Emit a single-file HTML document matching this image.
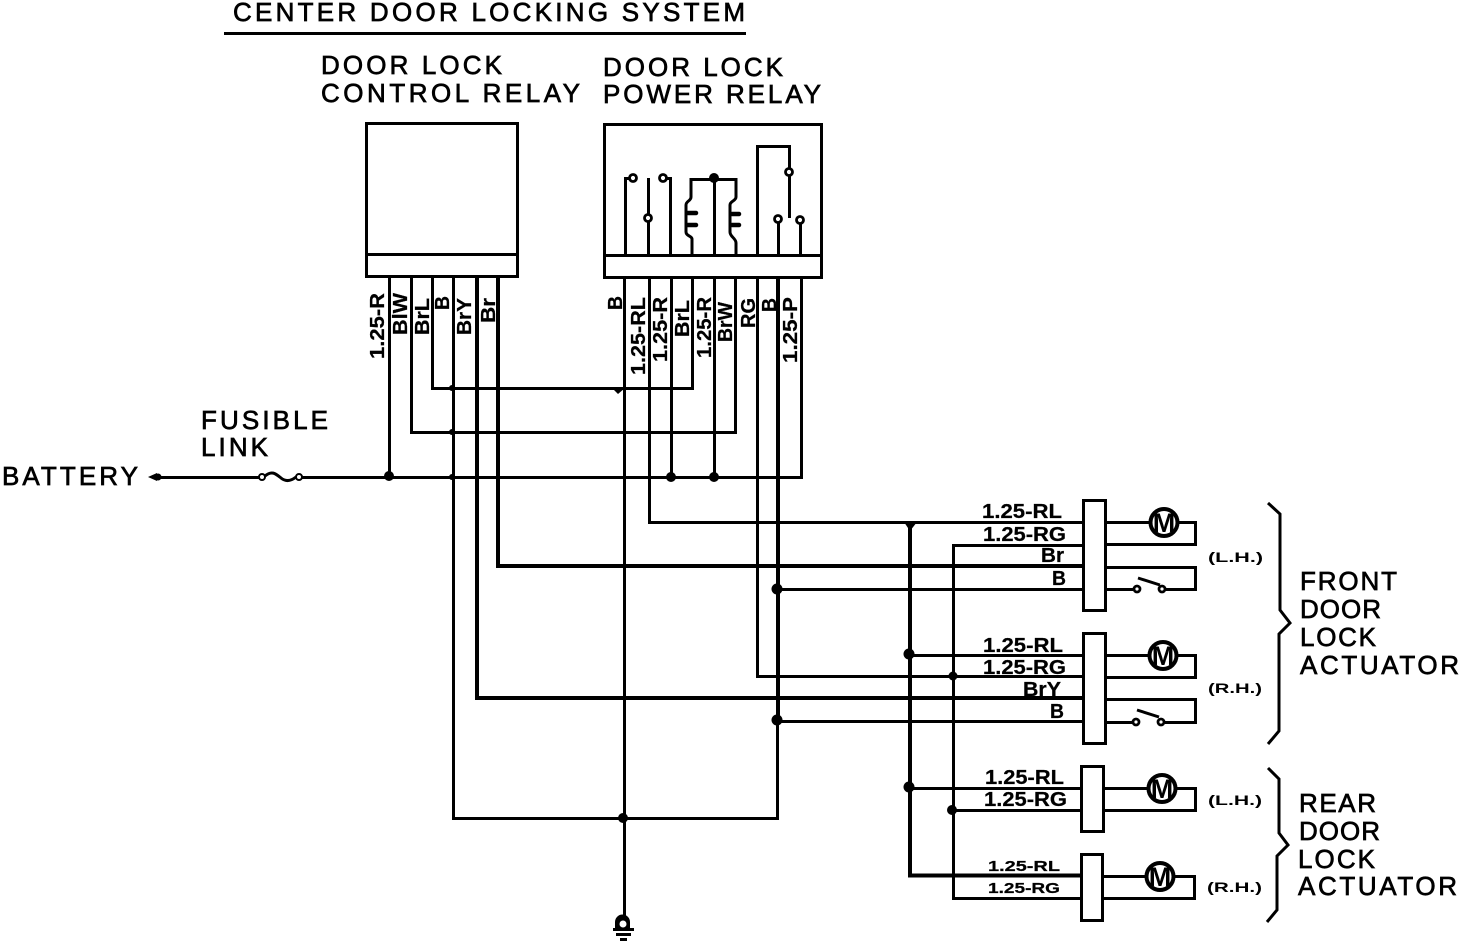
<!DOCTYPE html>
<html>
<head>
<meta charset="utf-8">
<style>
html,body{margin:0;padding:0;background:#fff}
svg{display:block}
text{font-family:"Liberation Sans",sans-serif;fill:#000}
.h{font-size:26px;stroke:#000;stroke-width:.7px}
.w{font-size:20px;font-weight:bold;stroke:#000;stroke-width:.25px}
.s{font-size:14px;font-weight:bold}
.l{fill:none;stroke:#000;stroke-width:3;shape-rendering:crispEdges}
.t{fill:none;stroke:#000;stroke-width:4;shape-rendering:crispEdges}
.c{fill:none;stroke:#000;stroke-width:3}
.o{fill:#fff;stroke:#000;stroke-width:2.8}
</style>
</head>
<body>
<svg width="1472" height="942" viewBox="0 0 1472 942" xmlns="http://www.w3.org/2000/svg">
<rect width="1472" height="942" fill="#fff"/>

<!-- headings -->
<text class="h" x="233" y="21" textLength="512" lengthAdjust="spacing">CENTER DOOR LOCKING SYSTEM</text>
<path d="M224 33.500H746" class="l"/>
<text class="h" x="321" y="74" textLength="181" lengthAdjust="spacing">DOOR LOCK</text>
<text class="h" x="321" y="102" textLength="259" lengthAdjust="spacing">CONTROL RELAY</text>
<text class="h" x="603" y="76" textLength="180" lengthAdjust="spacing">DOOR LOCK</text>
<text class="h" x="603" y="103" textLength="218" lengthAdjust="spacing">POWER RELAY</text>
<text class="h" x="201" y="429" textLength="127" lengthAdjust="spacing">FUSIBLE</text>
<text class="h" x="201" y="456" textLength="67" lengthAdjust="spacing">LINK</text>
<text class="h" x="2" y="485" textLength="136" lengthAdjust="spacing">BATTERY</text>

<!-- relays -->
<rect x="366.500" y="123.500" width="151" height="153" class="l"/>
<path d="M366 254.500H518" class="l"/>
<rect x="604.500" y="124.500" width="217" height="153" class="l"/>
<path d="M604 255.500H822" class="l"/>

<!-- power relay internals -->
<path d="M625.500 255V178.500H630M648.500 255V178M670.500 255V178.500H666M714.500 255V178" class="l"/>
<path d="M692 255V239C692 236 686 236 686 232V205C686 201 691 201 691 197V179.500H736V197C736 201 730 201 730 205V232C730 237 736 238 736 243V255" class="c"/>
<path d="M688 213H696M688 225H696M732 214H739M732 225H739" fill="none" stroke="#000" stroke-width="4.500" stroke-linecap="round"/>
<path d="M757.500 255V146.500H789.500V218M778.500 255V220M800.500 255V221" class="l"/>
<circle cx="633" cy="178" r="3.500" class="o"/>
<circle cx="663" cy="178" r="3.500" class="o"/>
<circle cx="648" cy="218" r="3.500" class="o"/>
<circle cx="789" cy="172" r="3.500" class="o"/>
<circle cx="778" cy="219" r="3.500" class="o"/>
<circle cx="800" cy="220" r="3.500" class="o"/>
<circle cx="714" cy="178" r="5" fill="#000"/>

<!-- left relay wiring -->
<path d="M389.500 276V477" class="l"/>
<path d="M411.500 276V432.500H735.500V278" class="l"/>
<path d="M432.500 276V388.500H692.500V278" class="l"/>
<path d="M453.500 276V818.500H777.500V720" class="l"/>
<path d="M477 276V698H1083" class="t"/>
<path d="M498 276V566H1083" class="t"/>

<!-- right relay wiring -->
<path d="M624.500 278V918" class="l"/>
<path d="M649.500 278V522.500H1083" class="l"/>
<path d="M671.500 278V477M714.500 278V477M757.500 278V676.500H1083" class="l"/>
<path d="M778 278V720" class="t"/>

<!-- battery line -->
<path d="M155 477.500H259M302 477.500H801.500V278" class="l"/>
<path d="M148 477L157 473V481Z" fill="#000"/>
<circle cx="158" cy="477" r="3.500" fill="#000"/>
<circle cx="262" cy="477" r="3" class="o" style="stroke-width:2"/>
<circle cx="299" cy="477" r="3" class="o" style="stroke-width:2"/>
<path d="M265 476C272 470 276 474 281 478C286 482 291 481 296 477" class="c"/>

<!-- bus verticals -->
<path d="M910 522V875.500H1081" class="t"/>
<path d="M1083 545.500H953.500V898.500H1081" class="l"/>
<path d="M777 589.500H1083M777 721.500H1083M909 655.500H1083M909 788.500H1081M952 810.500H1081" class="l"/>

<!-- junctions -->
<g fill="#000">
<circle cx="389" cy="476" r="5"/>
<circle cx="671" cy="477" r="5"/>
<circle cx="714" cy="477" r="5"/>
<circle cx="452" cy="477" r="3"/>
<circle cx="452" cy="432" r="3"/>
<circle cx="452" cy="388" r="3"/>
<circle cx="623" cy="818" r="5"/>
<circle cx="777" cy="589" r="5.500"/>
<circle cx="777" cy="720" r="5.500"/>
<circle cx="909" cy="654" r="5.500"/>
<circle cx="909" cy="787" r="5.500"/>
<circle cx="953" cy="676" r="4.500"/>
<circle cx="952" cy="810" r="5"/>
<path d="M904 522H917L910 531Z"/>
<path d="M612 388H625L618 394Z"/>
</g>

<!-- ground -->
<path d="M615 929V922A7.500 7.500 0 0 1 630 922V929Z" fill="#000"/>
<circle cx="623" cy="924" r="3.500" fill="#fff"/>
<path d="M613 929.500H634" class="l"/>
<path d="M616 934.500H631M620 939.500H627" class="l"/>

<!-- actuators -->
<rect x="1083.500" y="500.500" width="22" height="110" class="l" style="fill:#fff"/>
<rect x="1083.500" y="633.500" width="22" height="110" class="l" style="fill:#fff"/>
<rect x="1081.500" y="766.500" width="22" height="65" class="l" style="fill:#fff"/>
<rect x="1081.500" y="854.500" width="21" height="66" class="l" style="fill:#fff"/>

<!-- motor loops -->
<path d="M1105 522.500H1195.500V544.500H1105" class="l"/>
<path d="M1105 567.500H1195.500V589.500H1165M1133 589.500H1105" class="l"/>
<path d="M1105 655.500H1195.500V677.500H1105" class="l"/>
<path d="M1105 699.500H1195.500V722.500H1165M1133 722.500H1105" class="l"/>
<path d="M1104 788.500H1195.500V810.500H1104" class="l"/>
<path d="M1103 876.500H1194.500V898.500H1103" class="l"/>

<!-- switches -->
<path d="M1138 578L1160 585M1137 710L1159 717" class="c"/>
<circle cx="1137" cy="589" r="3" class="o"/>
<circle cx="1162" cy="589" r="3" class="o"/>
<circle cx="1136" cy="722" r="3" class="o"/>
<circle cx="1161" cy="722" r="3" class="o"/>

<!-- motors -->
<g>
<circle cx="1164" cy="522.500" r="13.500" fill="#fff" stroke="#000" stroke-width="4"/>
<circle cx="1163" cy="655.500" r="13.500" fill="#fff" stroke="#000" stroke-width="4"/>
<circle cx="1162" cy="788.500" r="13.500" fill="#fff" stroke="#000" stroke-width="4"/>
<circle cx="1160" cy="876.500" r="13.500" fill="#fff" stroke="#000" stroke-width="4"/>
</g>
<g font-size="27" font-weight="bold" text-anchor="middle">
<text x="1164" y="532">M</text>
<text x="1163" y="665">M</text>
<text x="1162" y="798">M</text>
<text x="1160" y="886">M</text>
</g>

<!-- wire labels -->
<text class="w" x="982" y="518" textLength="80" lengthAdjust="spacingAndGlyphs">1.25-RL</text>
<text class="w" x="983" y="541" textLength="83" lengthAdjust="spacingAndGlyphs">1.25-RG</text>
<text class="w" x="1041" y="562" textLength="23" lengthAdjust="spacingAndGlyphs">Br</text>
<text class="w" x="1052" y="585" textLength="14" lengthAdjust="spacingAndGlyphs">B</text>
<text class="w" x="983" y="652" textLength="80" lengthAdjust="spacingAndGlyphs">1.25-RL</text>
<text class="w" x="983" y="674" textLength="83" lengthAdjust="spacingAndGlyphs">1.25-RG</text>
<text class="w" x="1023" y="696" textLength="38" lengthAdjust="spacingAndGlyphs">BrY</text>
<text class="w" x="1050" y="718" textLength="14" lengthAdjust="spacingAndGlyphs">B</text>
<text class="w" x="985" y="784" textLength="79" lengthAdjust="spacingAndGlyphs">1.25-RL</text>
<text class="w" x="984" y="806" textLength="83" lengthAdjust="spacingAndGlyphs">1.25-RG</text>
<text class="w" style="font-size:15px" x="988" y="871" textLength="72" lengthAdjust="spacingAndGlyphs">1.25-RL</text>
<text class="w" style="font-size:15px" x="988" y="893" textLength="72" lengthAdjust="spacingAndGlyphs">1.25-RG</text>

<!-- vertical labels left relay -->
<text class="w" transform="translate(384,359) rotate(-90)" textLength="66" lengthAdjust="spacingAndGlyphs">1.25-R</text>
<text class="w" transform="translate(407,335) rotate(-90)" textLength="42" lengthAdjust="spacingAndGlyphs">BlW</text>
<text class="w" transform="translate(429,335) rotate(-90)" textLength="37" lengthAdjust="spacingAndGlyphs">BrL</text>
<text class="w" transform="translate(449,310) rotate(-90)" textLength="14" lengthAdjust="spacingAndGlyphs">B</text>
<text class="w" transform="translate(471,335) rotate(-90)" textLength="37" lengthAdjust="spacingAndGlyphs">BrY</text>
<text class="w" transform="translate(495,323) rotate(-90)" textLength="25" lengthAdjust="spacingAndGlyphs">Br</text>

<!-- vertical labels right relay -->
<text class="w" transform="translate(622,310) rotate(-90)" textLength="14" lengthAdjust="spacingAndGlyphs">B</text>
<text class="w" transform="translate(645,375) rotate(-90)" textLength="78" lengthAdjust="spacingAndGlyphs">1.25-RL</text>
<text class="w" transform="translate(667,362) rotate(-90)" textLength="65" lengthAdjust="spacingAndGlyphs">1.25-R</text>
<text class="w" transform="translate(689,337) rotate(-90)" textLength="37" lengthAdjust="spacingAndGlyphs">BrL</text>
<text class="w" transform="translate(711,358) rotate(-90)" textLength="61" lengthAdjust="spacingAndGlyphs">1.25-R</text>
<text class="w" transform="translate(732,342) rotate(-90)" textLength="40" lengthAdjust="spacingAndGlyphs">BrW</text>
<text class="w" transform="translate(755,328) rotate(-90)" textLength="30" lengthAdjust="spacingAndGlyphs">RG</text>
<text class="w" transform="translate(776,312) rotate(-90)" textLength="14" lengthAdjust="spacingAndGlyphs">B</text>
<text class="w" transform="translate(797,363) rotate(-90)" textLength="66" lengthAdjust="spacingAndGlyphs">1.25-P</text>

<!-- side labels -->
<text class="s" x="1208" y="562" textLength="55" lengthAdjust="spacingAndGlyphs">(L.H.)</text>
<text class="s" x="1208" y="693" textLength="54" lengthAdjust="spacingAndGlyphs">(R.H.)</text>
<text class="s" x="1208" y="805" textLength="54" lengthAdjust="spacingAndGlyphs">(L.H.)</text>
<text class="s" x="1207" y="892" textLength="55" lengthAdjust="spacingAndGlyphs">(R.H.)</text>

<!-- braces -->
<path d="M1268 503L1280 514V610L1290 623L1279 634V731L1268 744" class="c"/>
<path d="M1268 768L1279 779V833L1288 845L1277 856V910L1267 922" class="c"/>

<text class="h" x="1300" y="590" textLength="97" lengthAdjust="spacing">FRONT</text>
<text class="h" x="1300" y="618" textLength="81" lengthAdjust="spacing">DOOR</text>
<text class="h" x="1300" y="646" textLength="76" lengthAdjust="spacing">LOCK</text>
<text class="h" x="1300" y="674" textLength="159" lengthAdjust="spacing">ACTUATOR</text>
<text class="h" x="1299" y="812" textLength="77" lengthAdjust="spacing">REAR</text>
<text class="h" x="1299" y="840" textLength="81" lengthAdjust="spacing">DOOR</text>
<text class="h" x="1298" y="868" textLength="77" lengthAdjust="spacing">LOCK</text>
<text class="h" x="1298" y="895" textLength="159" lengthAdjust="spacing">ACTUATOR</text>
</svg>
</body>
</html>
